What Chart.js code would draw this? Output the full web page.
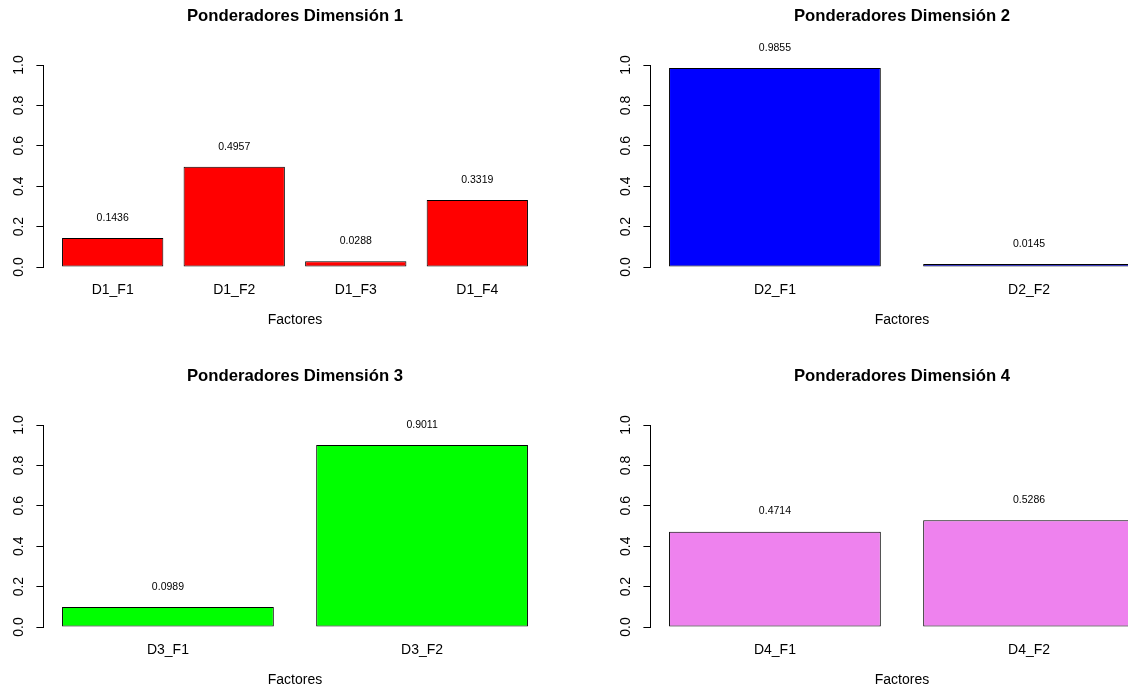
<!DOCTYPE html>
<html>
<head>
<meta charset="utf-8">
<script src="https://cdn.jsdelivr.net/npm/chart.js@4.4.1/dist/chart.umd.min.js"></script>
<style>
html, body { margin:0; padding:0; background:#fff; }
body { width:1128px; height:688px; overflow:hidden; position:relative; }
canvas { position:absolute; }
</style>
</head>
<body>
<canvas id="c1" width="590" height="337" style="left:0px;top:0px"></canvas>
<canvas id="c2" width="590" height="337" style="left:607px;top:0px"></canvas>
<canvas id="c3" width="590" height="337" style="left:0px;top:360px"></canvas>
<canvas id="c4" width="590" height="337" style="left:607px;top:360px"></canvas>
<script>
// ---- data ----
const titles = ['Ponderadores Dimensión 1', 'Ponderadores Dimensión 2', 'Ponderadores Dimensión 3', 'Ponderadores Dimensión 4'];
const cats1 = ['D1_F1', 'D1_F2', 'D1_F3', 'D1_F4'];
const vals1 = [0.1436, 0.4957, 0.0288, 0.3319];
const cats2 = ['D2_F1', 'D2_F2'];
const vals2 = [0.9855, 0.0145];
const cats3 = ['D3_F1', 'D3_F2'];
const vals3 = [0.0989, 0.9011];
const cats4 = ['D4_F1', 'D4_F2'];
const vals4 = [0.4714, 0.5286];
const yTicks = [0, 0.2, 0.4, 0.6, 0.8, 1.0];
const xTitle = 'Factores';
const colors = ['#FF0000', '#0000FF', '#00FF00', '#EE82EE'];

// ---- style ----
const FONT = '"Liberation Sans", Arial, Helvetica, sans-serif';
Chart.defaults.font.family = FONT;
Chart.defaults.color = '#000';
const SPACE = 0.2;          // barplot spacing (fraction of bar width)
const LABEL_OFFSET = 0.1;   // value label placed above bar top

const valueLabels = {
  id: 'valueLabels',
  afterDatasetsDraw(chart) {
    const ctx = chart.ctx;
    const ys = chart.scales.y;
    const meta = chart.getDatasetMeta(0);
    const data = chart.data.datasets[0].data;
    ctx.save();
    ctx.font = '10.5px ' + FONT;
    ctx.fillStyle = '#000';
    ctx.textAlign = 'center';
    ctx.textBaseline = 'middle';
    meta.data.forEach((el, i) => {
      const v = data[i].y;
      ctx.fillText(v.toFixed(4), el.x, ys.getPixelForValue(v + LABEL_OFFSET));
    });
    ctx.restore();
  }
};

const panelTitle = {
  id: 'panelTitle',
  afterDraw(chart, args, opts) {
    const ctx = chart.ctx;
    const a = chart.chartArea;
    ctx.save();
    ctx.font = 'bold 16.7px ' + FONT;
    ctx.fillStyle = '#000';
    ctx.textAlign = 'center';
    ctx.textBaseline = 'middle';
    ctx.fillText(opts.text, (a.left + a.right) / 2, 16);
    ctx.restore();
  }
};

function makeChart(id, title, cats, vals, color) {
  const n = cats.length;
  const centers = cats.map((c, i) => SPACE + i * (1 + SPACE) + 0.5);
  const lo = SPACE, hi = n * (1 + SPACE);
  const ext = 0.04 * (hi - lo);
  new Chart(document.getElementById(id), {
    type: 'bar',
    data: {
      datasets: [{
        data: vals.map((v, i) => ({ x: centers[i], y: v })),
        backgroundColor: color,
        borderColor: '#000',
        borderWidth: 1,
        borderSkipped: false,
        barPercentage: 1 / (1 + SPACE),
        categoryPercentage: 1
      }]
    },
    options: {
      responsive: false,
      animation: false,
      devicePixelRatio: 1,
      layout: { padding: { left: 0, right: 43.4, top: 65, bottom: 0 } },
      plugins: {
        legend: { display: false },
        tooltip: { enabled: false },
        title: { display: false },
        panelTitle: { text: title }
      },
      scales: {
        x: {
          type: 'linear',
          offset: false,
          min: lo - ext, max: hi + ext,
          afterBuildTicks: s => { s.ticks = centers.map(v => ({ value: v })); },
          afterFit: s => { s.height = 70; },
          ticks: {
            autoSkip: false, maxRotation: 0, minRotation: 0, padding: 14.6,
            color: '#000', font: { family: FONT, size: 14 },
            callback: (v, i) => cats[i]
          },
          grid: { display: false, offset: false, drawTicks: false, tickLength: 0 },
          border: { display: false },
          title: {
            display: true, text: xTitle, color: '#000',
            font: { family: FONT, size: 14 },
            padding: { top: 0, bottom: 8.6 }
          }
        },
        y: {
          type: 'linear', min: 0, max: 1,
          afterBuildTicks: s => { s.ticks = yTicks.map(v => ({ value: v })); },
          afterFit: s => { s.width = 43.4; },
          ticks: {
            minRotation: 90, maxRotation: 90, crossAlign: 'center', padding: 8,
            color: '#000', font: { family: FONT, size: 14 },
            callback: v => v.toFixed(1)
          },
          grid: { display: true, drawOnChartArea: false, drawTicks: true, tickLength: 7, color: '#000', lineWidth: 1 },
          border: { display: true, color: '#000', width: 1 }
        }
      }
    },
    plugins: [valueLabels, panelTitle]
  });
}

makeChart('c1', titles[0], cats1, vals1, colors[0]);
makeChart('c2', titles[1], cats2, vals2, colors[1]);
makeChart('c3', titles[2], cats3, vals3, colors[2]);
makeChart('c4', titles[3], cats4, vals4, colors[3]);
</script>
</body>
</html>
